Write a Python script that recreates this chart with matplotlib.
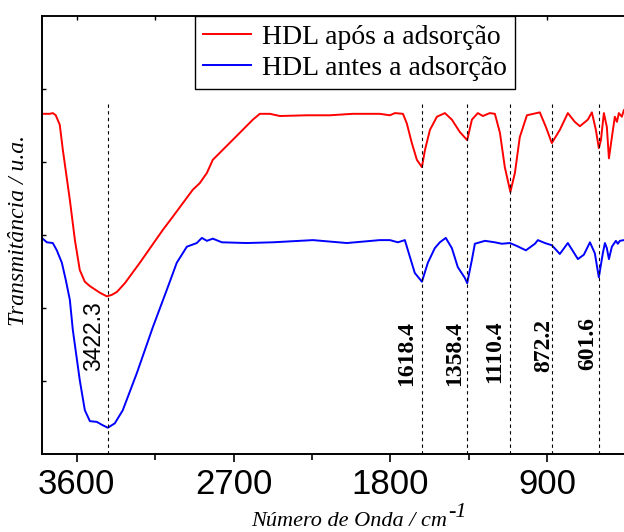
import numpy as np
import matplotlib.pyplot as plt

# espectro HDL apos a adsorcao (numero de onda, transmitancia u.a.)
w_apos = [3801, 3755, 3738, 3721, 3698, 3680, 3640, 3611, 3583, 3554, 3525, 3468, 3428, 3399,
          3370, 3324, 3238, 3106, 3049, 2934, 2894, 2853, 2819, 2664, 2589, 2549, 2491, 2434,
          2279, 2147, 2015, 1860, 1802, 1773, 1727, 1705, 1676, 1647, 1618, 1601, 1572, 1532,
          1486, 1446, 1400, 1358, 1331, 1297, 1268, 1228, 1199, 1170, 1142, 1110, 1084, 1056,
          1015, 941, 906, 872, 826, 780, 740, 711, 665, 642, 619, 602, 590, 573, 556, 544, 527,
          510, 498, 487, 470, 458]
t_apos = [4.66, 4.66, 4.67, 4.64, 4.51, 4.16, 3.48, 2.93, 2.52, 2.36, 2.30, 2.21, 2.16, 2.18,
          2.22, 2.34, 2.62, 3.07, 3.25, 3.62, 3.71, 3.85, 4.03, 4.40, 4.58, 4.66, 4.66, 4.63,
          4.64, 4.64, 4.66, 4.66, 4.64, 4.67, 4.66, 4.53, 4.26, 4.03, 3.93, 4.16, 4.44, 4.62,
          4.67, 4.58, 4.41, 4.30, 4.58, 4.67, 4.63, 4.67, 4.66, 4.40, 3.93, 3.59, 3.85, 4.34,
          4.64, 4.68, 4.48, 4.26, 4.44, 4.67, 4.55, 4.49, 4.58, 4.68, 4.44, 4.19, 4.30, 4.67,
          4.48, 4.05, 4.34, 4.62, 4.55, 4.67, 4.62, 4.71]

# espectro HDL antes a adsorcao
w_antes = [3801, 3772, 3738, 3715, 3686, 3663, 3640, 3623, 3583, 3554, 3525, 3485, 3456, 3422,
           3382, 3336, 3255, 3163, 3083, 3026, 2968, 2911, 2882, 2853, 2819, 2767, 2624, 2474,
           2244, 2049, 1860, 1802, 1756, 1716, 1687, 1659, 1618, 1584, 1544, 1515, 1481, 1446,
           1412, 1371, 1358, 1331, 1314, 1256, 1199, 1159, 1113, 1073, 1021, 969, 952, 912, 872,
           826, 780, 722, 688, 653, 625, 602, 579, 567, 556, 544, 527, 504, 493, 481, 458]
t_antes = [2.96, 2.90, 2.89, 2.79, 2.62, 2.38, 2.11, 1.70, 1.01, 0.60, 0.45, 0.44, 0.40, 0.36,
           0.42, 0.60, 1.11, 1.74, 2.25, 2.62, 2.84, 2.89, 2.96, 2.92, 2.95, 2.90, 2.89, 2.90,
           2.93, 2.89, 2.93, 2.93, 2.90, 2.93, 2.70, 2.48, 2.36, 2.62, 2.82, 2.90, 2.96, 2.82,
           2.56, 2.41, 2.34, 2.66, 2.88, 2.92, 2.90, 2.88, 2.89, 2.85, 2.79, 2.88, 2.93, 2.89,
           2.86, 2.74, 2.89, 2.67, 2.73, 2.90, 2.75, 2.42, 2.75, 2.89, 2.82, 2.67, 2.84, 2.92,
           2.88, 2.92, 2.93]

picos = [3422.3, 1618.4, 1358.4, 1110.4, 872.2, 601.6]
picos_txt = ["3422.3", "1618.4", "1358.4", "1110.4", "872.2", "601.6"]
picos_ytxt = [1.62, 1.38, 1.38, 1.40, 1.48, 1.51]
picos_dx = [-10, -11, -9, -11, -6, -8]   # deslocamento do texto (pt)
linha_topo = 4.82

fig = plt.figure(figsize=(6.24, 5.32), dpi=100)
ax = fig.add_axes([42/624, 78/532, 592/624, 438/532])

ax.plot(w_apos, t_apos, color="#ff0000", lw=1.4, label="HDL após a adsorção")
ax.plot(w_antes, t_antes, color="#0000ff", lw=1.4, label="HDL antes a adsorção")

for i, p in enumerate(picos):
    ax.plot([p, p], [0, linha_topo], color="k", lw=0.8, ls=(0, (3, 3)))
    if i == 0:
        fp = dict(family="Liberation Sans", fontsize=16.5)
    else:
        fp = dict(family="Liberation Serif", fontsize=17, fontweight="bold")
    ax.annotate(picos_txt[i], (p, picos_ytxt[i]), xytext=(picos_dx[i], 0),
                textcoords="offset points", rotation=90, ha="center", va="center", **fp)

ax.set_xlim(3800, 400)
ax.set_ylim(0, 6)
ax.set_xticks([3600, 2700, 1800, 900])
ax.set_xticks([3150, 2250, 1350, 450], minor=True)
ax.set_yticks([1, 2, 3, 4, 5])
ax.set_yticklabels([])
ax.tick_params(axis="x", which="major", direction="out", length=6, width=1.2, pad=4,
               labelsize=25)
ax.tick_params(axis="x", which="minor", direction="out", length=4, width=1.2)
ax.tick_params(axis="y", direction="in", length=3, width=1)
for lb in ax.get_xticklabels():
    lb.set_family("Liberation Sans")
for s in ax.spines.values():
    s.set_linewidth(1.4)
ax.spines["top"].set_linewidth(1.1)

# ticks de cima, para dentro
topo = ax.secondary_xaxis("top")
topo.set_xticks([3600, 2700, 1800, 900])
topo.set_xticks([3150, 2250, 1350, 450], minor=True)
topo.tick_params(which="both", direction="in", length=3, width=1, labeltop=False)
topo.spines["top"].set_linewidth(1.1)

leg = ax.legend(loc="upper left", bbox_to_anchor=(195/624, 1 - 16/532),
                bbox_transform=fig.transFigure, prop={"family": "Liberation Serif", "size": 20},
                frameon=True, fancybox=False, framealpha=1, edgecolor="k",
                handlelength=1.7, handletextpad=0.4, labelspacing=0.2, borderpad=0.3,
                borderaxespad=0)
leg.get_frame().set_linewidth(1.0)

xl = fig.text(349/624, 1 - 526/532, "Número de Onda / cm", ha="center", va="baseline",
              family="Liberation Serif", style="italic", fontsize=16)
fig.canvas.draw()
ax.annotate("-1", xy=(1, 0), xycoords=xl, xytext=(1, 10), textcoords="offset points",
            ha="left", va="baseline", family="Liberation Serif", style="italic", fontsize=16,
            annotation_clip=False)
fig.text(19/624, 1 - 230/532, "Transmitância / u.a.", rotation=90, ha="center", va="center",
         family="Liberation Serif", style="italic", fontsize=17)

fig.savefig("out.png")
